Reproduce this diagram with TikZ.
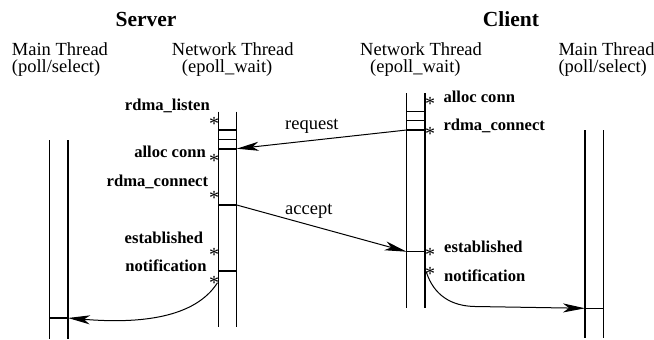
\documentclass[tikz,border=0pt]{standalone}
\usepackage{fontspec}
\setmainfont{Liberation Serif}
\usetikzlibrary{arrows.meta}

\tikzset{
  heading/.style={font=\fontsize{21.5}{24}\selectfont\bfseries, anchor=base, inner sep=0pt},
  thread/.style={font=\fontsize{18.5}{20}\selectfont, anchor=base west, inner sep=0pt},
  event/.style={font=\fontsize{16.6}{18}\selectfont\bfseries, inner sep=0pt},
  msglabel/.style={font=\fontsize{18.5}{20}\selectfont, anchor=base west, inner sep=0pt},
  star/.style={font=\fontsize{20}{20}\selectfont, inner sep=0pt, anchor=center, yshift=-3pt},
  lifeline/.style={line width=1.5pt, black},
  tick/.style={line width=1.5pt, black},
  msg/.style={line width=1pt, -{Stealth[length=22pt,width=9pt,inset=6pt]}},
}

\begin{document}
\begin{tikzpicture}[x=1pt,y=-1pt]
\useasboundingbox (0,0) rectangle (654,340);

% ---- headings ----
\node[heading] (server) at (146,26.7) {Server};
\node[heading] (client) at (511,26.7) {Client};

\node[thread] (smt1) at (11.7,55) {Main Thread};
\node[thread] (smt2) at (11.7,72) {(poll/select)};
\node[thread] (snt1) at (171.7,55) {Network Thread};
\node[thread] (snt2) at (181.7,72) {(epoll\_wait)};
\node[thread] (cnt1) at (360,55) {Network Thread};
\node[thread] (cnt2) at (370,72) {(epoll\_wait)};
\node[thread] (cmt1) at (558.3,55) {Main Thread};
\node[thread] (cmt2) at (558.3,72) {(poll/select)};

% ---- lifelines ----
% server main thread
\coordinate (smL) at (49.3,140);  \coordinate (smR) at (68,140);
\draw[lifeline] (smL) -- (49.3,339);
\draw[lifeline] (smR) -- (68,339);
\coordinate (smIn) at (68,318);
\draw[tick] (49.3,318) -- (smIn);

% server network thread
\draw[lifeline] (218.3,111.7) -- (218.3,326.7);
\draw[lifeline] (236.7,111.7) -- (236.7,326.7);
\foreach \y in {130,139.3,205,271}
  \draw[tick] (218.3,\y) -- (236.7,\y);
\draw[line width=2pt] (218.3,148.7) -- (236.7,148.7);
\coordinate (snReq) at (236.7,148.7);
\coordinate (snAcc) at (236.7,205);
\coordinate (snOut) at (217.5,282.7);

% client network thread
\draw[lifeline] (406.7,93) -- (406.7,308);
\draw[lifeline] (425,93) -- (425,308);
\foreach \y in {111.7,120.7,130,251.7}
  \draw[tick] (406.7,\y) -- (425,\y);
\coordinate (cnReq) at (406.7,130);
\coordinate (cnAcc) at (406.7,251.7);
\coordinate (cnOut) at (426.2,271.7);

% client main thread
\draw[lifeline] (585,130) -- (585,338);
\draw[lifeline] (603.5,130) -- (603.5,338);
\coordinate (cmIn) at (585,308.3);
\draw[tick] (cmIn) -- (603.5,308.3);

% ---- event markers and labels ----
\foreach \y [count=\i] in {120.7,158,195,252,280}
  \node[star] (ss\i) at (214,\y) {*};
\foreach \y [count=\i] in {100.7,130.7,252,270.7}
  \node[star] (cs\i) at (430,\y) {*};

\node[event, anchor=base east] (e1) at (210,110) {rdma\_listen};
\node[event, anchor=base east] (e2) at (206,157.3) {alloc conn};
\node[event, anchor=base east] (e3) at (208.3,186) {rdma\_connect};
\node[event, anchor=base east] (e4) at (203.3,243.3) {established};
\node[event, anchor=base east] (e5) at (206.7,271) {notification};

\node[event, anchor=base west] (f1) at (443.3,102.7) {alloc conn};
\node[event, anchor=base west] (f2) at (443.3,130) {rdma\_connect};
\node[event, anchor=base west] (f3) at (444,252.7) {established};
\node[event, anchor=base west] (f4) at (444,281) {notification};

% ---- messages ----
\draw[msg] (cnReq) -- (snReq);
\node[msglabel] (lreq) at (285,129) {request};
\draw[msg] (snAcc) -- (cnAcc);
\node[msglabel] (lacc) at (285,214) {accept};

\draw[msg] (snOut) .. controls (195,318) and (140,324) .. (smIn);
\coordinate (cnBend) at (475,306.5);
\draw[msg] (cnOut) .. controls (434,296) and (452,306.1) .. (cnBend) -- (cmIn);
\end{tikzpicture}
\end{document}
